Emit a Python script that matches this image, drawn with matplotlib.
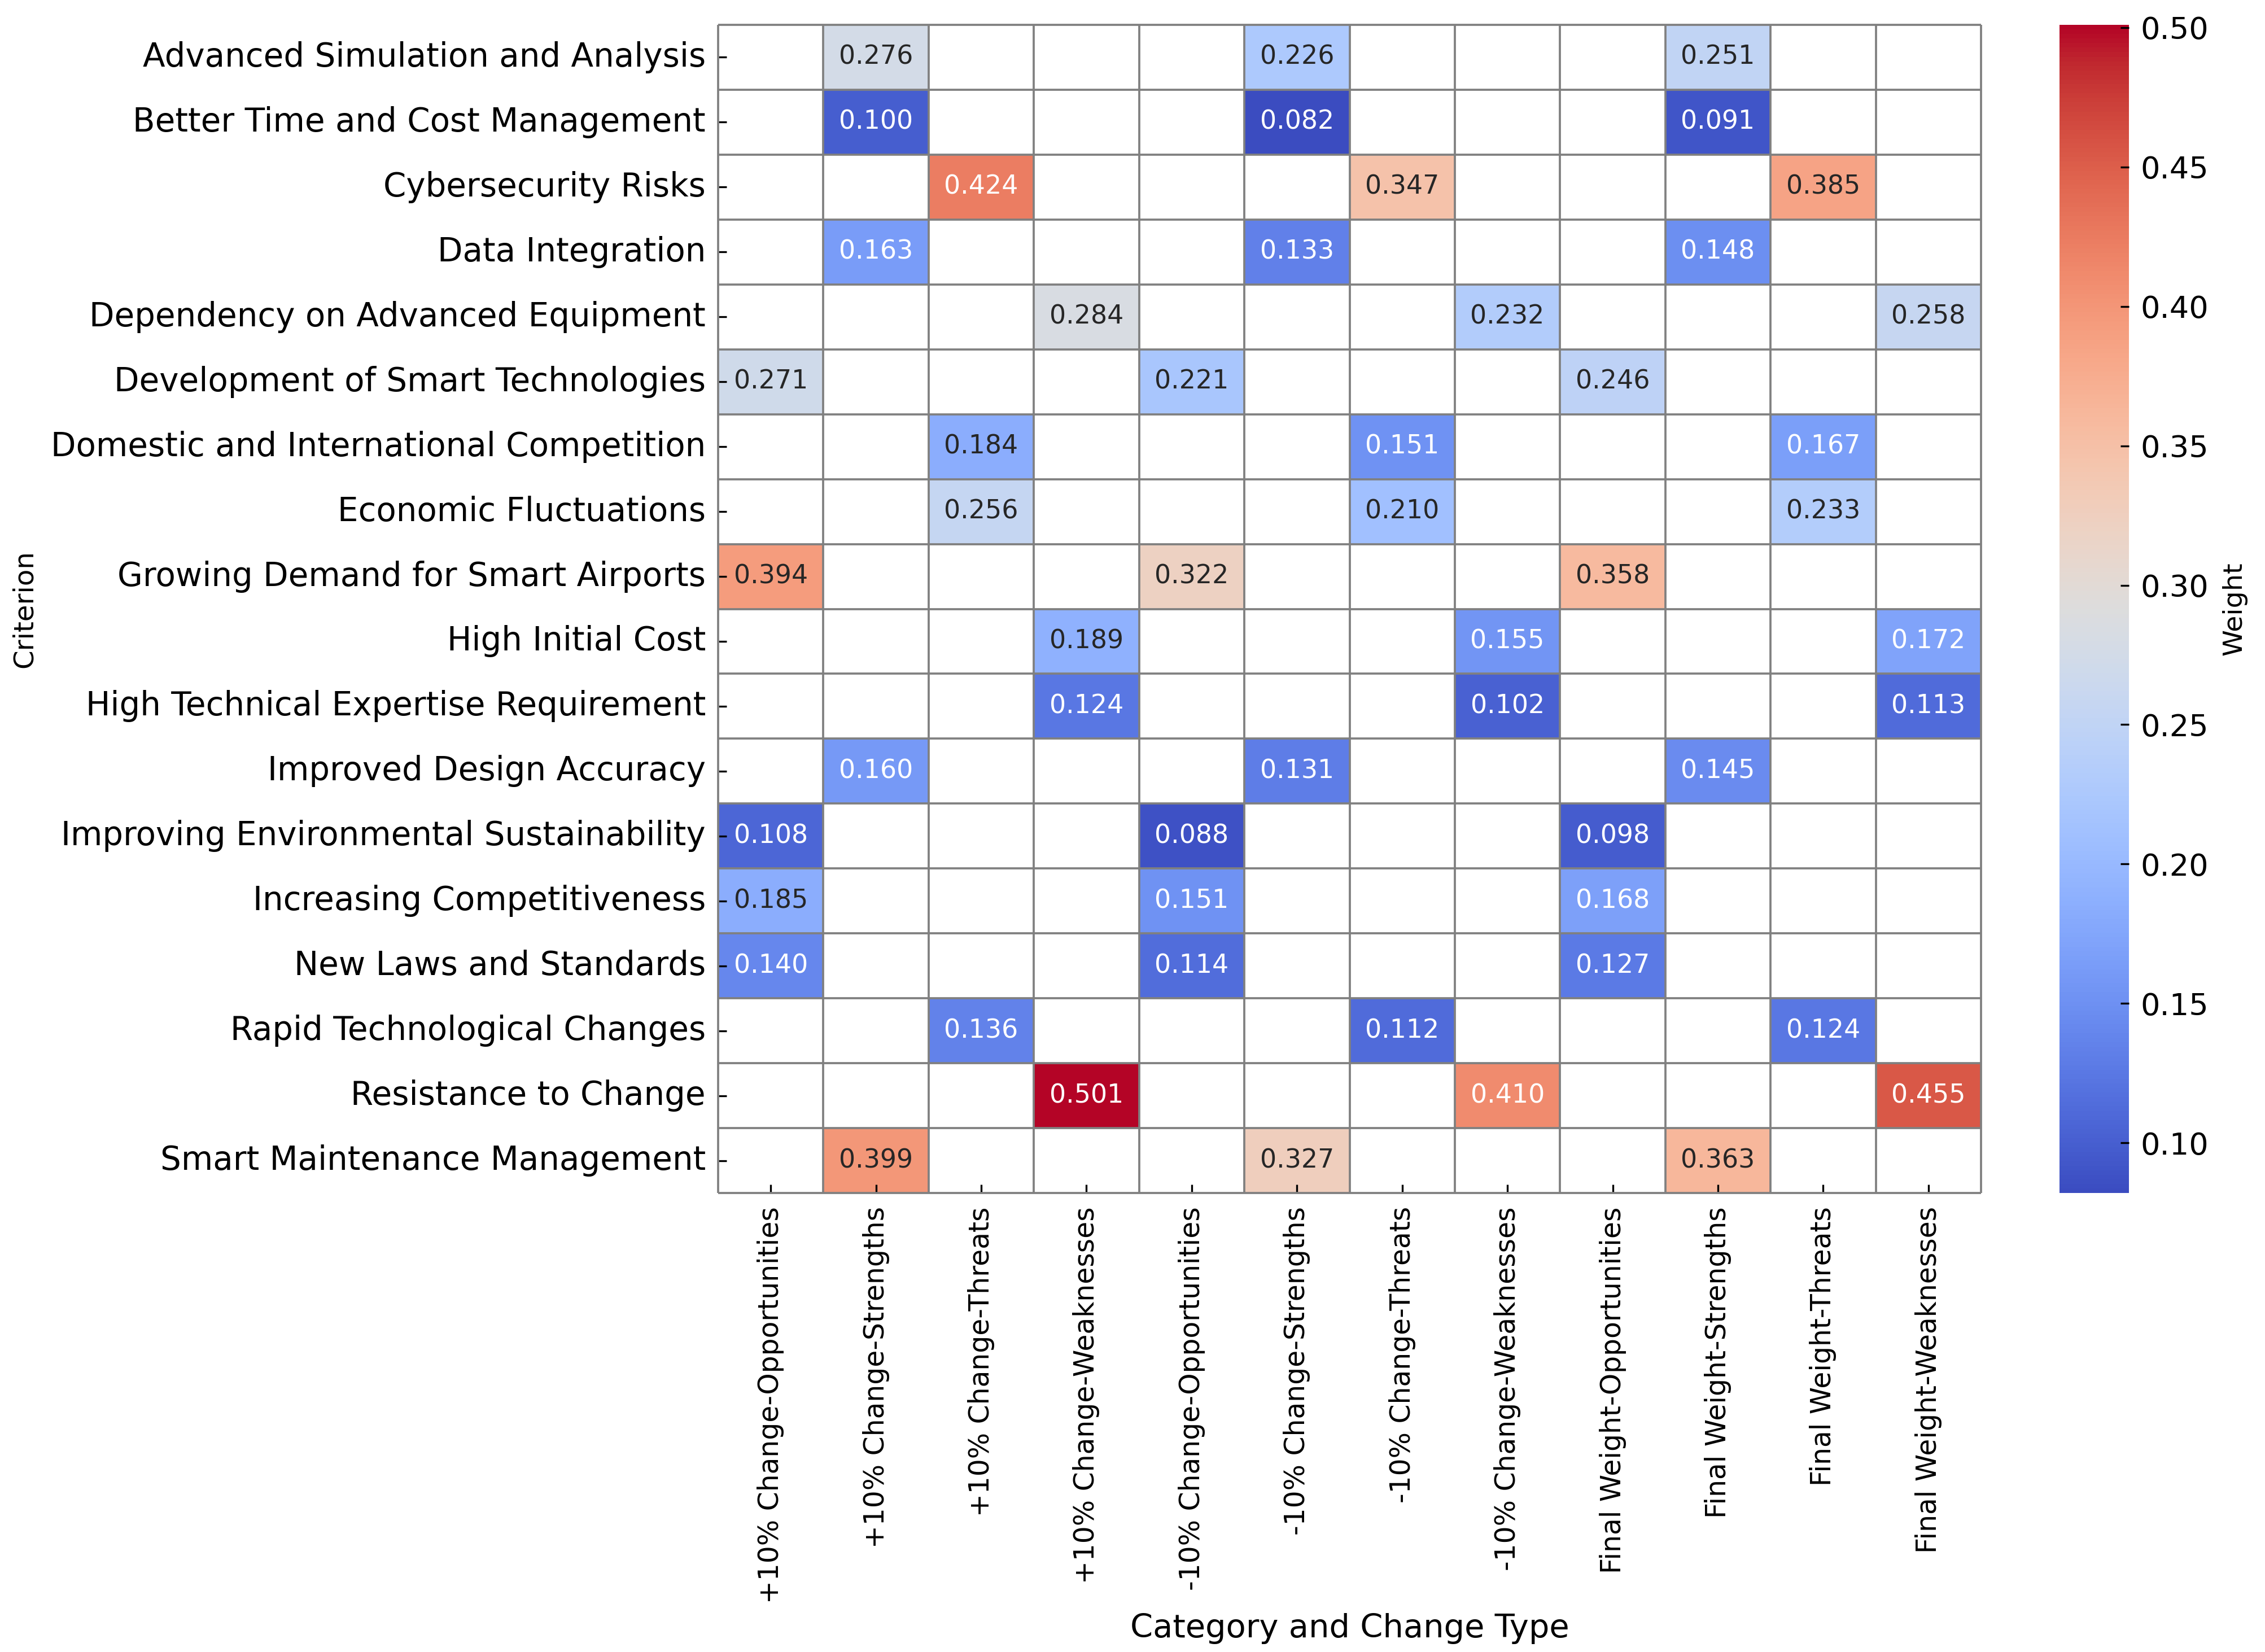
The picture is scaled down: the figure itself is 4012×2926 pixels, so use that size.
import numpy as np
import pandas as pd
import matplotlib
matplotlib.use("Agg")
import matplotlib.pyplot as plt
import seaborn as sns

# criteria, their SWOT group and the three weights
criteria = [
    "Advanced Simulation and Analysis",
    "Better Time and Cost Management",
    "Cybersecurity Risks",
    "Data Integration",
    "Dependency on Advanced Equipment",
    "Development of Smart Technologies",
    "Domestic and International Competition",
    "Economic Fluctuations",
    "Growing Demand for Smart Airports",
    "High Initial Cost",
    "High Technical Expertise Requirement",
    "Improved Design Accuracy",
    "Improving Environmental Sustainability",
    "Increasing Competitiveness",
    "New Laws and Standards",
    "Rapid Technological Changes",
    "Resistance to Change",
    "Smart Maintenance Management",
]
groups = [
    "Strengths", "Strengths", "Threats", "Strengths", "Weaknesses",
    "Opportunities", "Threats", "Threats", "Opportunities", "Weaknesses",
    "Weaknesses", "Strengths", "Opportunities", "Opportunities",
    "Opportunities", "Threats", "Weaknesses", "Strengths",
]
plus_10 = [0.276, 0.100, 0.424, 0.163, 0.284, 0.271, 0.184, 0.256, 0.394,
           0.189, 0.124, 0.160, 0.108, 0.185, 0.140, 0.136, 0.501, 0.399]
minus_10 = [0.226, 0.082, 0.347, 0.133, 0.232, 0.221, 0.151, 0.210, 0.322,
            0.155, 0.102, 0.131, 0.088, 0.151, 0.114, 0.112, 0.410, 0.327]
final = [0.251, 0.091, 0.385, 0.148, 0.258, 0.246, 0.167, 0.233, 0.358,
         0.172, 0.113, 0.145, 0.098, 0.168, 0.127, 0.124, 0.455, 0.363]

change_types = ["+10% Change", "-10% Change", "Final Weight"]
group_order = ["Opportunities", "Strengths", "Threats", "Weaknesses"]

rows = []
for name, values in zip(change_types, [plus_10, minus_10, final]):
    for crit, grp, v in zip(criteria, groups, values):
        rows.append({"Criterion": crit, "Column": f"{name}-{grp}", "Weight": v})
df = pd.DataFrame(rows)
columns = [f"{c}-{g}" for c in change_types for g in group_order]
table = df.pivot(index="Criterion", columns="Column", values="Weight")
table = table.reindex(index=criteria, columns=columns)

plt.rcParams["xtick.direction"] = "in"
plt.rcParams["ytick.direction"] = "in"

W, H, DPI = 4012, 2926, 300
fig = plt.figure(figsize=(W / DPI, H / DPI), dpi=DPI)
ax = fig.add_axes([1272 / W, 1 - 2113 / H, 2237 / W, 2069 / H])
cax = fig.add_axes([3648 / W, 1 - 2113 / H, 123 / W, 2069 / H])

sns.heatmap(table, ax=ax, cbar_ax=cax, cmap="coolwarm", annot=True, fmt=".3f",
            annot_kws={"fontsize": 11}, cbar_kws={"label": "Weight"})

# grid over every cell, empty ones included
nr, nc = table.shape
ax.hlines(np.arange(nr + 1), 0, nc, colors="gray", linewidth=0.9, clip_on=False)
ax.vlines(np.arange(nc + 1), 0, nr, colors="gray", linewidth=0.9, clip_on=False)

ax.tick_params(axis="y", labelsize=13.9, pad=5.3)
ax.tick_params(axis="x", labelsize=11.7, pad=5.8, labelrotation=90)
ax.set_xlabel("Category and Change Type", fontsize=13.8)
ax.set_ylabel("Criterion", fontsize=11.6)
ax.yaxis.set_label_coords(-0.539, 0.5)

cbar = ax.collections[0].colorbar
cbar.ax.tick_params(labelsize=13, pad=4.8, direction="in")
cbar.set_ticks([0.10, 0.15, 0.20, 0.25, 0.30, 0.35, 0.40, 0.45, 0.50])
cbar.ax.set_yticklabels([f"{t:.2f}" for t in cbar.get_ticks()])
cbar.set_label("Weight", fontsize=11.4)
cbar.ax.yaxis.set_label_coords(2.34, 0.5)

fig.savefig("out.png", dpi=DPI)
